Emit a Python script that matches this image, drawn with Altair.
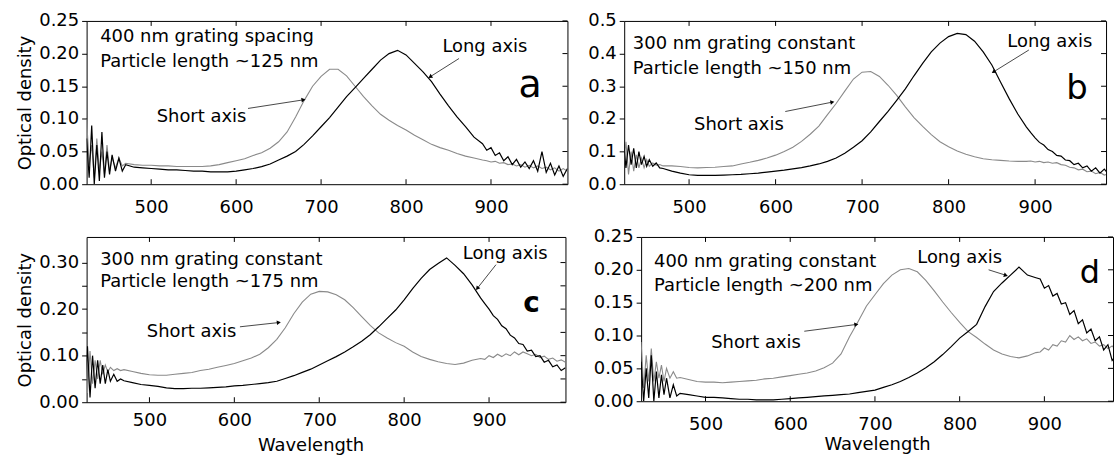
import math
import altair as alt
import pandas as pd

FONT = "DejaVu Sans"

# ---------------- data ----------------
WL = [424, 427, 430, 433, 436, 439, 442, 445, 448, 451, 454, 458, 462, 466, 470,
      480, 490, 500, 510, 520, 530, 540, 550, 560, 570, 580, 590, 600, 610, 620,
      630, 640, 650, 660, 670, 680, 690, 700, 710, 720, 730, 740, 750, 760, 770,
      780, 790, 800, 810, 820, 830, 840, 850, 860, 870, 880, 890,
      895, 900, 905, 910, 915, 920, 925, 930, 935, 940, 945, 950, 955, 960, 965,
      970, 975, 980, 985, 990]

A_LONG = [0.07, 0.01, 0.09, 0.00, 0.06, 0.005, 0.08, 0.01, 0.05, 0.015, 0.045, 0.02, 0.04, 0.02, 0.03,
          0.026, 0.025, 0.024, 0.023, 0.022, 0.022, 0.021, 0.020, 0.020, 0.019, 0.019, 0.019, 0.020, 0.022, 0.024,
          0.027, 0.031, 0.037, 0.043, 0.050, 0.061, 0.074, 0.088, 0.102, 0.118, 0.134, 0.148, 0.162, 0.176, 0.190,
          0.200, 0.205, 0.198, 0.185, 0.172, 0.157, 0.138, 0.120, 0.103, 0.088, 0.072, 0.062,
          0.052, 0.056, 0.044, 0.048, 0.036, 0.042, 0.030, 0.038, 0.026, 0.034, 0.024, 0.036, 0.020, 0.050, 0.018,
          0.032, 0.014, 0.028, 0.012, 0.024]
A_SHORT = [0.10, 0.03, 0.06, 0.01, 0.07, 0.02, 0.05, 0.015, 0.06, 0.02, 0.04, 0.025, 0.04, 0.028, 0.032,
           0.030, 0.029, 0.029, 0.028, 0.028, 0.027, 0.027, 0.027, 0.027, 0.028, 0.030, 0.033, 0.036, 0.039, 0.044,
           0.048, 0.055, 0.065, 0.080, 0.103, 0.128, 0.150, 0.165, 0.176, 0.176, 0.166, 0.150, 0.134, 0.120, 0.107,
           0.098, 0.090, 0.083, 0.075, 0.068, 0.061, 0.056, 0.052, 0.047, 0.043, 0.040, 0.037,
           0.036, 0.034, 0.035, 0.032, 0.033, 0.030, 0.031, 0.028, 0.030, 0.026, 0.029, 0.025, 0.028, 0.024, 0.026,
           0.022, 0.025, 0.020, 0.024, 0.020]

B_LONG = [0.14, 0.05, 0.12, 0.06, 0.11, 0.05, 0.10, 0.06, 0.085, 0.055, 0.075, 0.055, 0.065, 0.05, 0.048,
          0.040, 0.034, 0.029, 0.027, 0.027, 0.027, 0.028, 0.029, 0.030, 0.032, 0.034, 0.037, 0.040, 0.043, 0.047,
          0.051, 0.056, 0.062, 0.070, 0.080, 0.095, 0.113, 0.133, 0.160, 0.192, 0.223, 0.257, 0.292, 0.332, 0.370,
          0.405, 0.432, 0.452, 0.462, 0.458, 0.438, 0.405, 0.365, 0.313, 0.262, 0.215, 0.175,
          0.158, 0.142, 0.128, 0.120, 0.106, 0.100, 0.088, 0.086, 0.074, 0.072, 0.060, 0.064, 0.050, 0.056, 0.040,
          0.050, 0.034, 0.046, 0.030, 0.040]
B_SHORT = [0.06, 0.13, 0.03, 0.10, 0.04, 0.09, 0.05, 0.08, 0.05, 0.075, 0.055, 0.065, 0.058, 0.06, 0.056,
           0.056, 0.054, 0.051, 0.050, 0.051, 0.052, 0.054, 0.056, 0.062, 0.067, 0.073, 0.080, 0.089, 0.100, 0.113,
           0.131, 0.153, 0.178, 0.213, 0.247, 0.285, 0.322, 0.343, 0.345, 0.330, 0.303, 0.272, 0.237, 0.204, 0.177,
           0.152, 0.130, 0.115, 0.102, 0.092, 0.084, 0.078, 0.075, 0.073, 0.071, 0.070, 0.070,
           0.071, 0.068, 0.070, 0.066, 0.068, 0.064, 0.066, 0.060, 0.058, 0.052, 0.050, 0.044, 0.046, 0.038, 0.040,
           0.032, 0.036, 0.028, 0.032, 0.026]

C_LONG = [0.03, 0.12, 0.01, 0.10, 0.03, 0.09, 0.04, 0.08, 0.04, 0.07, 0.045, 0.06, 0.045, 0.05, 0.046,
          0.042, 0.038, 0.036, 0.034, 0.031, 0.029, 0.029, 0.030, 0.030, 0.031, 0.032, 0.033, 0.035, 0.036, 0.038,
          0.040, 0.042, 0.045, 0.051, 0.057, 0.064, 0.071, 0.080, 0.089, 0.098, 0.108, 0.119, 0.131, 0.145, 0.162,
          0.180, 0.198, 0.220, 0.244, 0.266, 0.285, 0.298, 0.310, 0.294, 0.276, 0.252, 0.224,
          0.212, 0.200, 0.186, 0.178, 0.164, 0.158, 0.144, 0.138, 0.126, 0.124, 0.110, 0.112, 0.098, 0.100, 0.086,
          0.090, 0.076, 0.080, 0.068, 0.074]
C_SHORT = [0.10, 0.02, 0.11, 0.04, 0.09, 0.05, 0.09, 0.06, 0.08, 0.065, 0.075, 0.068, 0.072, 0.068, 0.07,
           0.066, 0.062, 0.059, 0.058, 0.058, 0.060, 0.062, 0.064, 0.068, 0.071, 0.075, 0.079, 0.083, 0.089, 0.095,
           0.103, 0.117, 0.135, 0.160, 0.190, 0.215, 0.232, 0.238, 0.237, 0.231, 0.220, 0.203, 0.184, 0.165, 0.149,
           0.138, 0.128, 0.120, 0.108, 0.098, 0.092, 0.087, 0.083, 0.081, 0.084, 0.090, 0.094,
           0.092, 0.100, 0.096, 0.103, 0.098, 0.104, 0.100, 0.108, 0.102, 0.108, 0.104, 0.100, 0.103, 0.096, 0.099,
           0.092, 0.095, 0.088, 0.091, 0.086]

D_LONG = [0.06, 0.00, 0.05, 0.005, 0.07, 0.00, 0.045, 0.005, 0.04, 0.01, 0.035, 0.005, 0.025, 0.008, 0.012,
          0.010, 0.008, 0.006, 0.006, 0.005, 0.004, 0.003, 0.003, 0.002, 0.002, 0.002, 0.003, 0.004, 0.005, 0.006,
          0.007, 0.008, 0.009, 0.010, 0.011, 0.013, 0.015, 0.017, 0.021, 0.025, 0.030, 0.036, 0.043, 0.051, 0.060,
          0.071, 0.083, 0.096, 0.106, 0.117, 0.144, 0.167, 0.180, 0.192, 0.204, 0.192, 0.188,
          0.186, 0.172, 0.176, 0.160, 0.164, 0.148, 0.150, 0.132, 0.138, 0.118, 0.124, 0.104, 0.110, 0.092, 0.098,
          0.078, 0.086, 0.062, 0.070, 0.058]
D_SHORT = [0.09, 0.02, 0.07, 0.03, 0.08, 0.03, 0.06, 0.035, 0.055, 0.03, 0.05, 0.035, 0.045, 0.035, 0.036,
           0.033, 0.030, 0.029, 0.029, 0.028, 0.029, 0.030, 0.031, 0.032, 0.034, 0.035, 0.037, 0.039, 0.041, 0.043,
           0.046, 0.051, 0.058, 0.072, 0.098, 0.121, 0.145, 0.162, 0.179, 0.192, 0.200, 0.202, 0.197, 0.184, 0.168,
           0.151, 0.135, 0.120, 0.106, 0.097, 0.087, 0.078, 0.072, 0.068, 0.066, 0.069, 0.074,
           0.075, 0.081, 0.078, 0.086, 0.084, 0.092, 0.090, 0.100, 0.094, 0.098, 0.092, 0.095, 0.088, 0.090, 0.084,
           0.086, 0.080, 0.084, 0.078, 0.082]

X_TICKS = [500, 600, 700, 800, 900]
Y_TICKS_A = [0, 0.05, 0.1, 0.15, 0.2, 0.25]
Y_TICKS_B = [0, 0.1, 0.2, 0.3, 0.4, 0.5]
Y_TICKS_C = [0, 0.05, 0.1, 0.15, 0.2, 0.25, 0.3]
Y_LABELS_C = [0, 0.1, 0.2, 0.3]
Y_TICKS_D = [0, 0.05, 0.1, 0.15, 0.2, 0.25]

INFO_A = ["400 nm grating spacing", "Particle length ~125 nm"]
INFO_B = ["300 nm grating constant", "Particle length ~150 nm"]
INFO_C = ["300 nm grating constant", "Particle length ~175 nm"]
INFO_D = ["400 nm grating constant", "Particle length ~200 nm"]
SHORT_LABEL = "Short axis"
LONG_LABEL = "Long axis"
X_TITLE = "Wavelength"
Y_TITLE = "Optical density"

# ---------------- annotation placement (data coordinates) ----------------
ANN = {
    "a": dict(info=(440, [0.218, 0.180]), short=(506.5, 0.096), short_arrow=(614, 0.116, 678.5, 0.129),
              long=(842.8, 0.203), long_arrow=(862.4, 0.1925, 829, 0.165), letter=(946, 0.134),
              lsize=38, lweight="normal"),
    "b": dict(info=(435, [0.414, 0.339]), short=(505.8, 0.167), short_arrow=(611.2, 0.2226, 664.9, 0.251),
              long=(867.9, 0.421), long_arrow=(892.8, 0.411, 852.6, 0.345), letter=(948.4, 0.261),
              lsize=34, lweight="normal"),
    "c": dict(info=(442, [0.2955, 0.248]), short=(496.9, 0.141), short_arrow=(606.6, 0.162, 651.6, 0.171),
              long=(869, 0.308), long_arrow=(908.2, 0.2955, 886.6, 0.2456), letter=(950, 0.193),
              lsize=28, lweight="bold"),
    "d": dict(info=(439.3, [0.204, 0.167]), short=(506.7, 0.081), short_arrow=(616.6, 0.1065, 677.3, 0.1167),
              long=(749.9, 0.210), long_arrow=(834.2, 0.200, 853.8, 0.192), letter=(953.8, 0.18),
              lsize=32, lweight="normal"),
}

TXT = 18


def panel(key, long_vals, short_vals, info, xdom, ymax, yticks, ylabels, fmt, w, h,
          ytitle, xtitle, xlabpad, xtitlepad=8, xtitlex=None):
    ann = ANN[key]
    xkw = dict(values=X_TICKS, ticks=False, domain=False, grid=False, labelPadding=xlabpad,
               labelFlush=False, labelOverlap=False, title=None)
    if xtitle:
        xkw["title"] = X_TITLE
        xkw["titlePadding"] = xtitlepad
        if xtitlex is not None:
            xkw["titleX"] = xtitlex
    ykw = dict(values=yticks, tickSize=5, domain=False, grid=False, labelPadding=3,
               labelFlush=False, labelOverlap=False, title=None, format=fmt)
    if ylabels is not None:
        ykw["labelExpr"] = "indexof(%s, datum.value) >= 0 ? format(datum.value, '%s') : ''" % (
            str(ylabels), fmt)
    if ytitle:
        ykw["title"] = Y_TITLE
        ykw["titlePadding"] = 4
    x_enc = alt.X("wl:Q", scale=alt.Scale(domain=xdom, nice=False, zero=False), axis=alt.Axis(**xkw))
    y_enc = alt.Y("od:Q", scale=alt.Scale(domain=[0, ymax], nice=False, zero=False), axis=alt.Axis(**ykw))

    def px(wl, od):
        return ((wl - xdom[0]) / (xdom[1] - xdom[0]) * w, h - od / ymax * h)

    gray = alt.Chart(pd.DataFrame({"wl": WL, "od": short_vals})).mark_line(
        color="#8a8a8a", strokeWidth=1.1, clip=True).encode(x=x_enc, y=y_enc)
    black = alt.Chart(pd.DataFrame({"wl": WL, "od": long_vals})).mark_line(
        color="#000000", strokeWidth=1.2, clip=True).encode(x=x_enc, y=y_enc)

    xt = pd.DataFrame({"wl": X_TICKS})
    top_t = alt.Chart(xt).mark_rule(color="#000").encode(x=x_enc, y=alt.value(0), y2=alt.value(5))
    bot_t = alt.Chart(xt).mark_rule(color="#000").encode(x=x_enc, y=alt.value(h), y2=alt.value(h - 5))
    yt = pd.DataFrame({"od": yticks})
    right_t = alt.Chart(yt).mark_rule(color="#000").encode(y=y_enc, x=alt.value(w), x2=alt.value(w - 5))

    ix, iys = ann["info"]
    texts = pd.DataFrame({
        "wl": [ix, ix, ann["short"][0], ann["long"][0]],
        "od": [iys[0], iys[1], ann["short"][1], ann["long"][1]],
        "t": [info[0], info[1], SHORT_LABEL, LONG_LABEL],
    })
    text_l = alt.Chart(texts).mark_text(align="left", baseline="alphabetic", font=FONT,
                                        fontSize=TXT, color="#000").encode(x=x_enc, y=y_enc, text="t:N")

    arrows, heads = [], []
    for k in ("short_arrow", "long_arrow"):
        x0, y0, x1, y1 = ann[k]
        p0, p1 = px(x0, y0), px(x1, y1)
        ang = math.degrees(math.atan2(p1[0] - p0[0], -(p1[1] - p0[1]))) % 360
        arrows.append({"wl": x0, "od": y0, "wl2": x1, "od2": y1})
        heads.append({"wl": x1, "od": y1, "ang": ang})
    arrow_l = alt.Chart(pd.DataFrame(arrows)).mark_rule(color="#333", strokeWidth=0.9).encode(
        x=x_enc, y=y_enc, x2="wl2:Q", y2="od2:Q")
    head_l = alt.Chart(pd.DataFrame(heads)).mark_point(
        shape="triangle", filled=True, color="#000", size=22, opacity=1).encode(
        x=x_enc, y=y_enc, angle=alt.Angle("ang:Q", scale=None))

    letter = alt.Chart(pd.DataFrame({"wl": [ann["letter"][0]], "od": [ann["letter"][1]], "t": [key]})).mark_text(
        align="center", baseline="alphabetic", font=FONT, fontSize=ann["lsize"],
        fontWeight=ann["lweight"], color="#000").encode(x=x_enc, y=y_enc, text="t:N")

    return alt.layer(gray, black, top_t, bot_t, right_t, arrow_l, head_l, text_l, letter).properties(
        width=w, height=h)


a = panel("a", A_LONG, A_SHORT, INFO_A, [424, 990], 0.25, Y_TICKS_A, None, ".2f", 483, 164,
          True, False, 14)
b = panel("b", B_LONG, B_SHORT, INFO_B, [425, 982], 0.5, Y_TICKS_B, None, ".1f", 484, 164,
          False, False, 14)
c = panel("c", C_LONG, C_SHORT, INFO_C, [426, 990], 0.355, Y_TICKS_C, Y_LABELS_C, ".2f", 481, 166,
          True, True, 9, xtitlepad=7, xtitlex=225)
d = panel("d", D_LONG, D_SHORT, INFO_D, [424, 981], 0.25, Y_TICKS_D, None, ".2f", 474, 165,
          False, True, 14, xtitlepad=2)

row1 = alt.hconcat(a, b, spacing=18)
row2 = alt.hconcat(c, d, spacing=26)
chart = alt.vconcat(row1, row2, spacing=10).properties(
    padding={"left": 16, "top": 10, "right": 0, "bottom": 0},
    background="white",
).configure_view(stroke="#000", strokeWidth=1).configure_axis(
    labelFont=FONT, titleFont=FONT, labelFontSize=18, titleFontSize=18,
    labelColor="#000", titleColor="#000", titleFontWeight="normal", tickColor="#000"
)

chart.save("out.html", embed_options={"renderer": "svg", "actions": False})
